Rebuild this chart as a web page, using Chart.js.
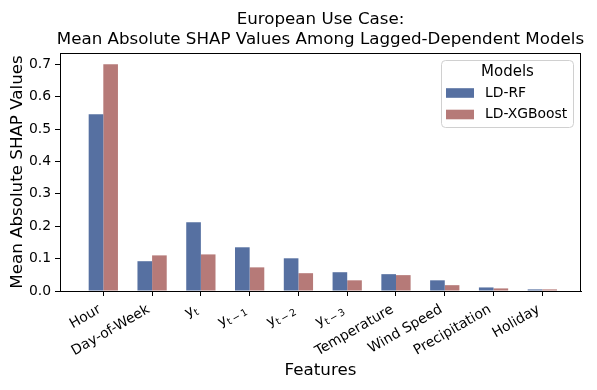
<!DOCTYPE html>
<html>
<head>
<meta charset="utf-8">
<script src="https://cdn.jsdelivr.net/npm/chart.js@4"></script>
<style>
html,body{margin:0;padding:0;background:#fff;}
#wrap{width:597px;height:390px;position:relative;}
</style>
</head>
<body>
<div id="wrap"><canvas id="c" width="597" height="390"></canvas></div>
<script>
// "_" marks a subscript part in a category label
const categories = ["Hour", "Day-of-Week", "y_t", "y_t\u2009\u2212\u20091", "y_t\u2009\u2212\u20092", "y_t\u2009\u2212\u20093", "Temperature", "Wind Speed", "Precipitation", "Holiday"];
const seriesNames = ["LD-RF", "LD-XGBoost"];
const ldRF = [0.546, 0.092, 0.212, 0.135, 0.101, 0.058, 0.052, 0.033, 0.011, 0.005];
const ldXGB = [0.700, 0.110, 0.113, 0.073, 0.055, 0.033, 0.049, 0.018, 0.008, 0.005];
const yTicks = [0.0, 0.1, 0.2, 0.3, 0.4, 0.5, 0.6, 0.7];
const titleLines = ["European Use Case:", "Mean Absolute SHAP Values Among Lagged-Dependent Models"];
const legendTitle = "Models";

const FONT = "'DejaVu Sans', sans-serif";
const colors = ["rgb(86,112,161)", "rgb(182,122,120)"];
const TICK_PX = 13.9;

const toPts = arr => arr.map((v, i) => ({x: i, y: v}));

const decor = {
  id: 'decor',
  afterDatasetsDraw(chart) {
    const {ctx, chartArea: a} = chart;
    ctx.save();
    ctx.strokeStyle = '#000';
    ctx.lineWidth = 1;
    ctx.strokeRect(Math.round(a.left) + 0.5, Math.round(a.top) + 0.5, Math.round(a.right - a.left) - 1, Math.round(a.bottom - a.top));
    ctx.restore();
  },
  afterDraw(chart) {
    const {ctx, chartArea: a} = chart;
    const ds = chart.data.datasets;
    ctx.save();
    // title
    ctx.fillStyle = '#000';
    ctx.textAlign = 'center';
    ctx.textBaseline = 'middle';
    ctx.font = "16.7px " + FONT;
    const cx = (a.left + a.right) / 2;
    titleLines.forEach((t, i) => ctx.fillText(t, cx, 19.5 + i * 20.5));

    // x tick labels (rotated 30°, right/top aligned like matplotlib)
    const xs = chart.scales.x;
    const ang = -30 * Math.PI / 180;
    const subPx = TICK_PX * 0.7;
    categories.forEach((lab, i) => {
      const px = xs.getPixelForValue(i);
      const py = a.bottom + 5 + 4.5;
      const parts = lab.split('_');
      const base = parts[0], sub = parts[1] || '';
      ctx.font = TICK_PX + "px " + FONT;
      const wb = ctx.measureText(base).width;
      ctx.font = subPx + "px " + FONT;
      const wsub = sub ? ctx.measureText(sub).width : 0;
      const h = sub ? 18 : 16.2;
      const desc = sub ? 5.5 : 3.3;
      const c = Math.cos(Math.PI / 6), s = Math.sin(Math.PI / 6);
      const uEnd = -h * c * s;
      const vBase = h * c * c - desc;
      ctx.save();
      ctx.translate(px, py);
      ctx.rotate(ang);
      ctx.fillStyle = '#000';
      ctx.textBaseline = 'alphabetic';
      ctx.textAlign = 'left';
      const u0 = uEnd - wsub - wb;
      ctx.font = TICK_PX + "px " + FONT;
      ctx.fillText(base, u0, vBase);
      if (sub) {
        ctx.font = subPx + "px " + FONT;
        ctx.fillText(sub, u0 + wb, vBase + 3);
      }
      ctx.restore();
    });

    // legend
    const bx = 441.5, by = 60.5, bw = 132, bh = 67, r = 4;
    ctx.beginPath();
    ctx.moveTo(bx + r, by);
    ctx.arcTo(bx + bw, by, bx + bw, by + bh, r);
    ctx.arcTo(bx + bw, by + bh, bx, by + bh, r);
    ctx.arcTo(bx, by + bh, bx, by, r);
    ctx.arcTo(bx, by, bx + bw, by, r);
    ctx.closePath();
    ctx.fillStyle = 'rgba(255,255,255,0.8)';
    ctx.fill();
    ctx.strokeStyle = '#d0d0d0';
    ctx.lineWidth = 1;
    ctx.stroke();
    ctx.fillStyle = '#000';
    ctx.textBaseline = 'middle';
    ctx.textAlign = 'center';
    ctx.font = "15px " + FONT;
    ctx.fillText(legendTitle, bx + bw / 2, 72);
    ctx.textAlign = 'left';
    ctx.font = TICK_PX + "px " + FONT;
    ds.forEach((d, i) => {
      const yc = 93 + i * 21.5;
      ctx.fillStyle = d.backgroundColor;
      ctx.fillRect(446, yc - 4.8, 28, 9.6);
      ctx.fillStyle = '#000';
      ctx.fillText(d.label, 485, yc);
    });
    ctx.restore();
  }
};

new Chart(document.getElementById('c'), {
  type: 'bar',
  data: {
    datasets: [
      {label: seriesNames[0], data: toPts(ldRF), backgroundColor: colors[0], borderWidth: 0},
      {label: seriesNames[1], data: toPts(ldXGB), backgroundColor: colors[1], borderWidth: 0}
    ]
  },
  options: {
    responsive: false,
    animation: false,
    devicePixelRatio: 1,
    layout: {padding: {left: 0, right: 16, top: 53, bottom: 0}},
    datasets: {bar: {categoryPercentage: 0.6, barPercentage: 1.0, grouped: true}},
    plugins: {
      legend: {display: false},
      tooltip: {enabled: false},
      title: {display: false}
    },
    scales: {
      x: {
        type: 'linear',
        offset: false,
        min: -0.888,
        max: 9.793,
        afterBuildTicks: s => { s.ticks = categories.map((c, i) => ({value: i})); },
        afterFit: s => { s.height = 99; },
        ticks: {display: false, autoSkip: false},
        grid: {display: true, drawOnChartArea: false, drawTicks: true, offset: false, color: '#000', tickLength: 5, tickWidth: 1},
        border: {display: true, color: '#000', width: 1},
        title: {display: true, text: 'Features', color: '#000', font: {family: FONT, size: 16.7}, padding: {top: 0, bottom: 9}}
      },
      y: {
        min: 0,
        max: 0.735,
        afterBuildTicks: s => { s.ticks = yTicks.map(v => ({value: v})); },
        afterFit: s => { s.width = 60; },
        ticks: {
          callback: v => v.toFixed(1),
          color: '#000',
          font: {family: FONT, size: TICK_PX},
          padding: 4
        },
        grid: {display: true, drawOnChartArea: false, color: '#000', tickLength: 5, tickWidth: 1},
        border: {display: true, color: '#000', width: 1},
        title: {display: true, text: 'Mean Absolute SHAP Values', color: '#000', font: {family: FONT, size: 16.7}, padding: {top: 7.5, bottom: 0}}
      }
    }
  },
  plugins: [decor]
});
</script>
</body>
</html>
